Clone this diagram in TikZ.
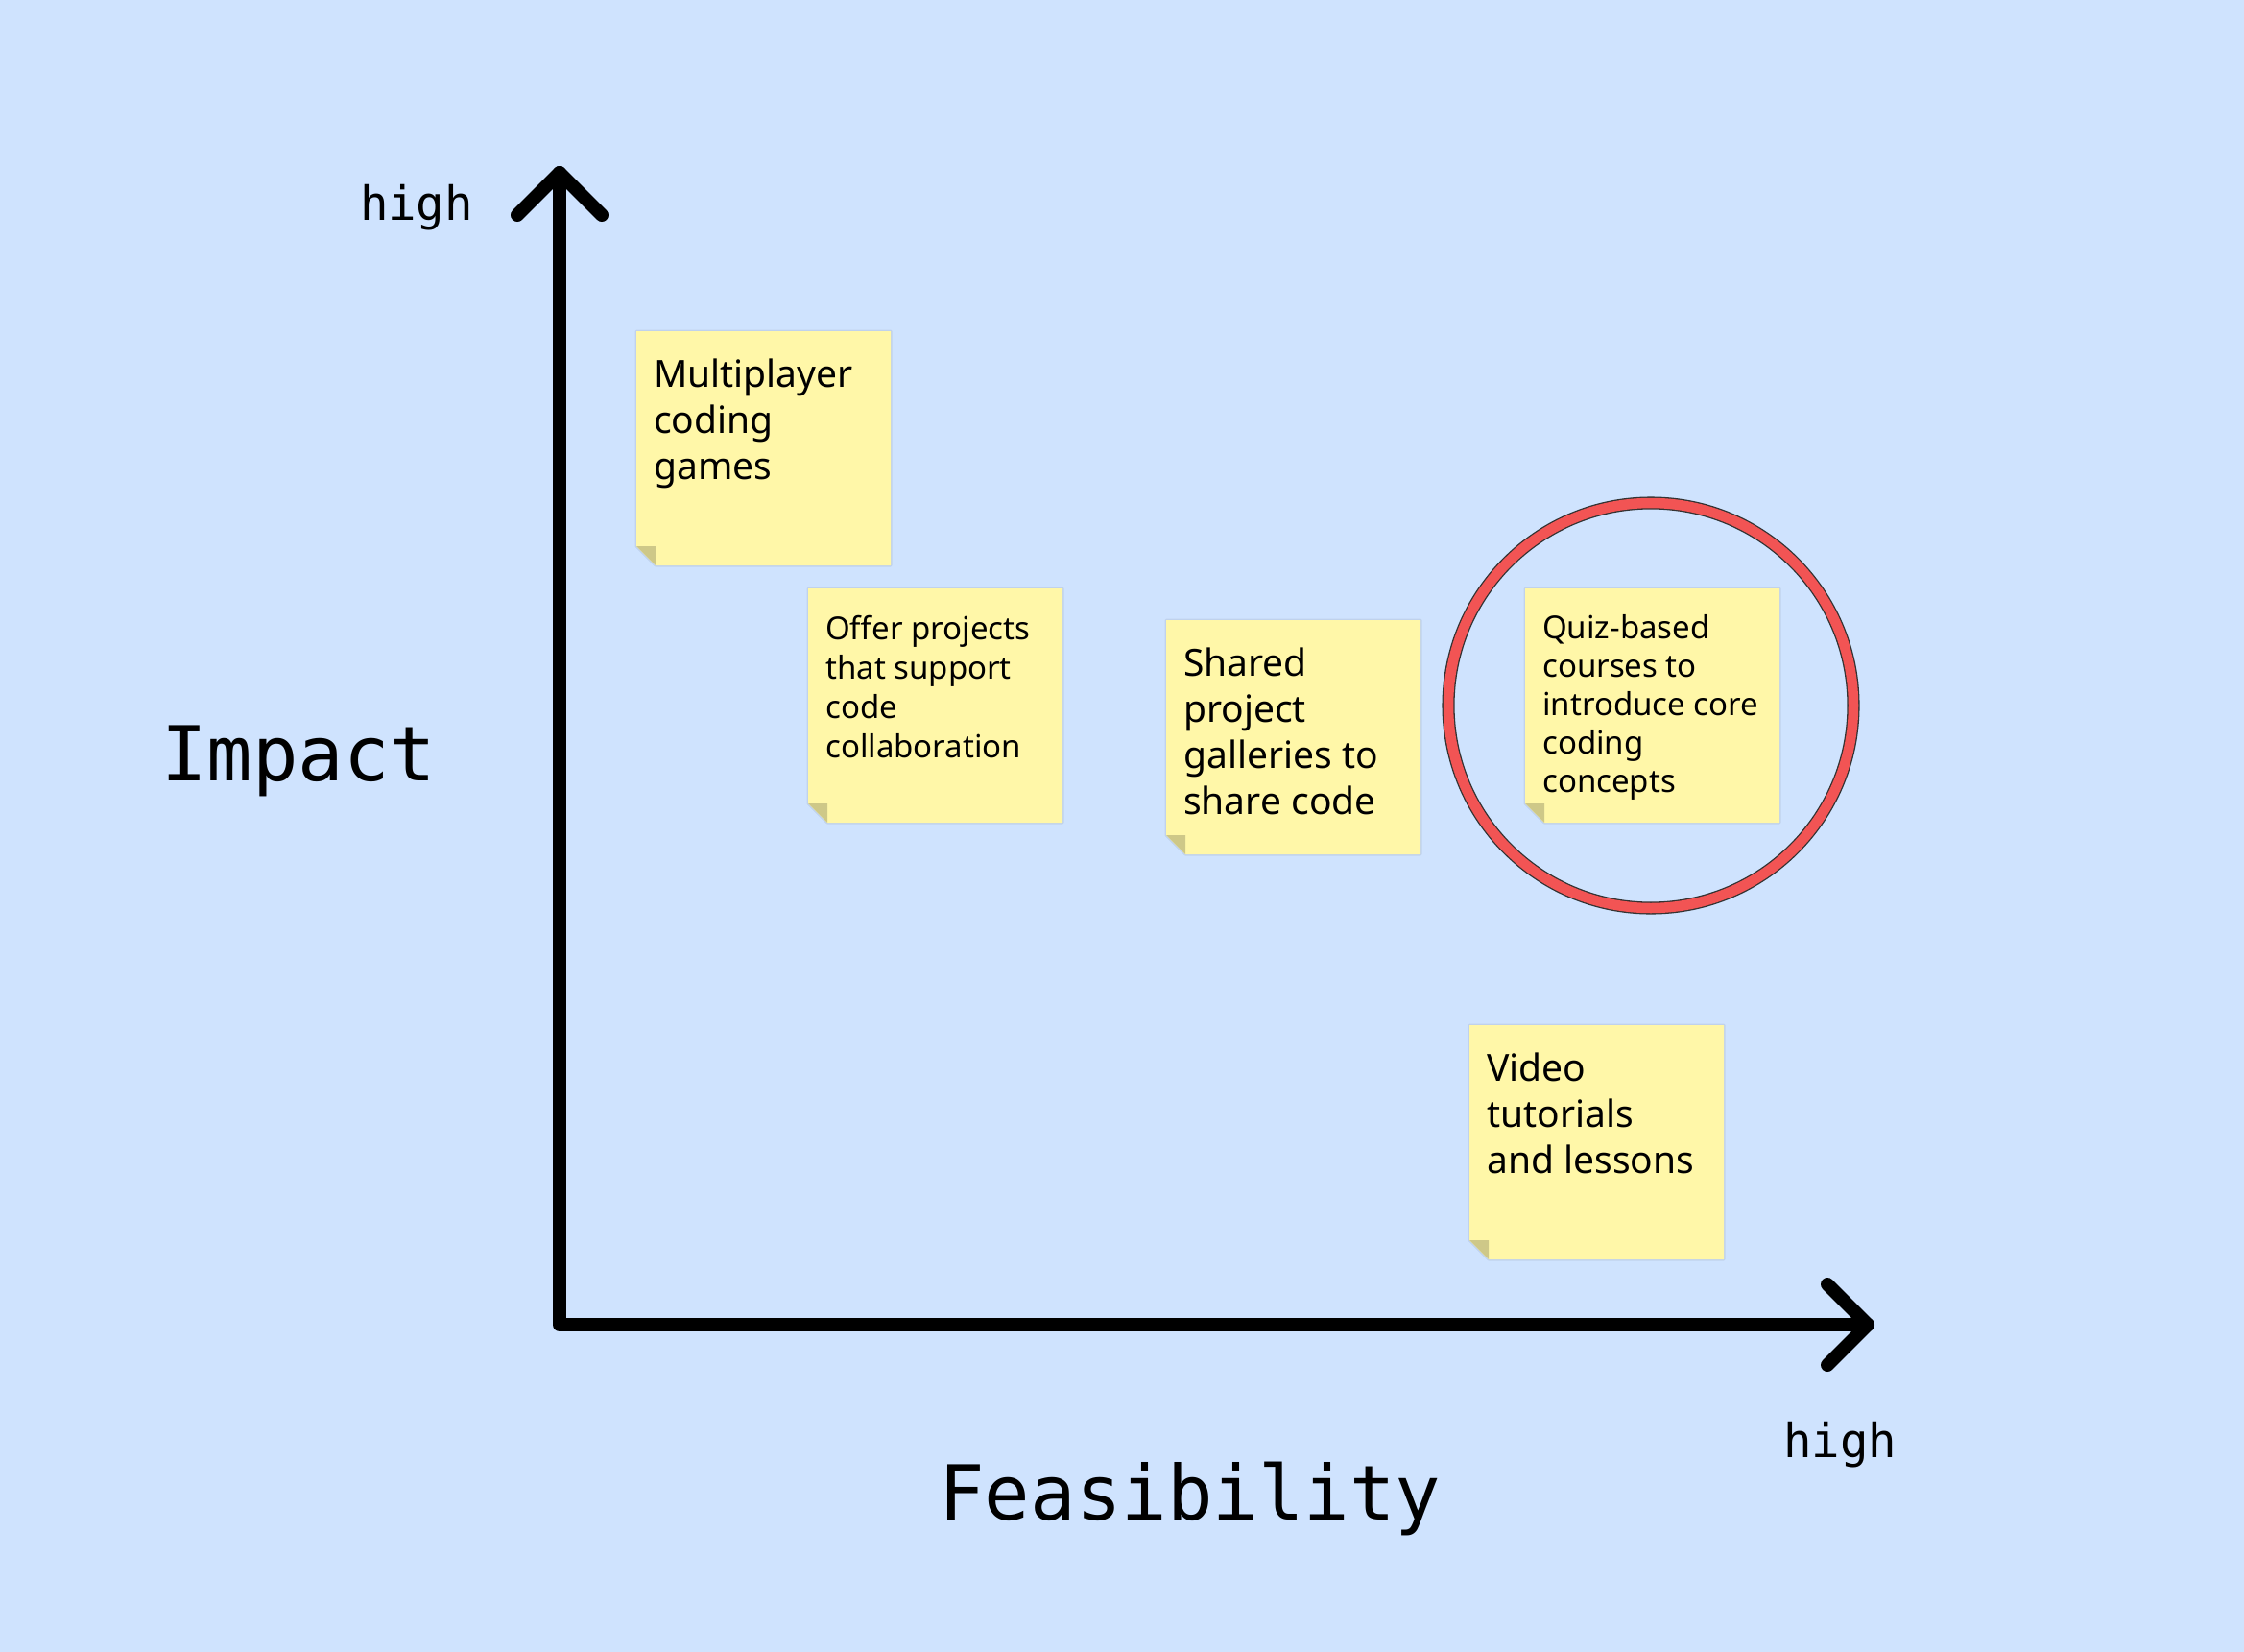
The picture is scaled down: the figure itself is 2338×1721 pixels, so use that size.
\documentclass[tikz,border=0pt]{standalone}
\usepackage{fontspec}
\setmainfont{Noto Sans}
\newfontfamily\axisfont{DejaVu Sans Mono}
\definecolor{bg}{RGB}{207,227,254}
\definecolor{sticky}{RGB}{255,247,168}
\definecolor{fold}{RGB}{206,200,136}
\definecolor{ringred}{RGB}{242,84,84}
\tikzset{
  notebox/.style={minimum width=265pt, minimum height=244pt, inner sep=0pt, outer sep=0pt, anchor=north west},
  axisline/.style={line width=14pt, line cap=round, line join=round, black},
  axislabel/.style={inner sep=0pt, anchor=base, font=\axisfont\fontsize{49}{56}\selectfont},
  axistitle/.style={inner sep=0pt, anchor=base, font=\axisfont\fontsize{79}{90}\selectfont},
}
\newcommand\stickynote[7]{%
  \node[notebox] (#1) at (#2,#3) {};
  \path[draw=black, opacity=0.07, line width=3pt, line join=round]
    (#1.north west) -- (#1.north east) -- (#1.south east) -- ([xshift=20pt]#1.south west) -- ([yshift=20pt]#1.south west) -- cycle;
  \fill[sticky] (#1.north west) -- (#1.north east) -- (#1.south east) -- ([xshift=20pt]#1.south west) -- ([yshift=20pt]#1.south west) -- cycle;
  \fill[fold] ([yshift=20pt]#1.south west) -- ([xshift=20pt,yshift=20pt]#1.south west) -- ([xshift=20pt]#1.south west) -- cycle;
  \node[anchor=base west, inner sep=0pt] (#1text) at ([xshift=18pt, yshift=-#4pt]#1.north west)
    {\parbox[t]{250pt}{\fontsize{#5}{#6}\selectfont\raggedright #7}};
}
\begin{document}
\begin{tikzpicture}[x=1pt, y=-1pt]
\fill[bg] (0,0) rectangle (2338,1721);
\useasboundingbox (0,0) rectangle (2338,1721);

% axes
\coordinate (origin) at (583,1380);
\coordinate (ytip) at (583,180);
\coordinate (xtip) at (1946,1380);
\coordinate (yarmL) at (539,224);
\coordinate (yarmR) at (627,224);
\coordinate (xarmU) at (1904,1338);
\coordinate (xarmD) at (1904,1422);
\draw[axisline] (xtip) -- (origin) -- (ytip);
\draw[axisline] (yarmL) -- (ytip) -- (yarmR);
\draw[axisline] (xarmU) -- (xtip) -- (xarmD);

% axis labels
\node[axislabel] (yhigh) at (434,229) {high};
\node[axislabel] (xhigh) at (1917,1518) {high};
\node[axistitle] (impact) at (311,813) {Impact};
\node[axistitle] (feas) at (1240,1583) {Feasibility};

% sticky notes
\stickynote{multi}{663}{345}{58}{39}{48}{Multiplayer\\coding\\games}
\stickynote{offer}{842}{613}{53}{33}{41.3}{Offer projects\\that support\\code\\collaboration}
\stickynote{shared}{1215}{646}{58}{39}{48}{Shared\\project\\galleries to\\share code}
\stickynote{quiz}{1589}{613}{52}{33}{40}{Quiz-based\\courses to\\introduce core\\coding\\concepts}
\stickynote{video}{1531}{1068}{58}{39}{48}{Video\\tutorials\\and lessons}

% highlight ring
\node[circle, minimum size=422pt, inner sep=0pt, draw=black!80, line width=1.3pt,
      double=ringred, double distance=10.5pt] (ring) at (1720,735) {};
\end{tikzpicture}
\end{document}
